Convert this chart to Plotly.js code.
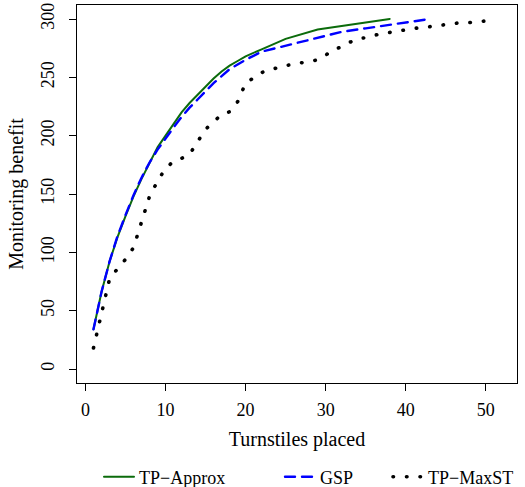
<!DOCTYPE html>
<html>
<head>
<meta charset="utf-8">
<script src="https://cdn.plot.ly/plotly-3.0.1.min.js"></script>
<style>
  html, body { margin: 0; padding: 0; background: #fff; }
  #chart { width: 525px; height: 487px; }
  .js-line { stroke-linecap: round; }
</style>
</head>
<body>
<div id="chart"></div>
<script>
// ---- data ----
var seriesNames = ["TP\u2212Approx", "GSP", "TP\u2212MaxST"];

var tpApproxX = [1,2,3,4,5,6,7,8,9,10,11,12,13,14,15,16,17,18,19,20,22,25,29,38];
var tpApproxY = [34,66,92,113,131,148,163,177,190,200,210,220,228,235,242,249,255,260,264,268,274,283,291,300];

var gspX = [1,2,3,4,5,6,7,8,9,10,11,12,13,14,15,16,17,18,19,20,22,25,29,32,35,38,40,43];
var gspY = [34,66,92,114,132,149,164,177,188,198,207,216,224,231,238,245,251,257,261,265,272,277,284,289,292,295,297,300];

var maxstX = [1,2,3,4,5,6,7,8,9,10,11,12,13,14,15,16,17,18,19,20,21,22,23,24,25,26,27,28,29,30,31,32,33,34,35,36,37,38,39,40,41,42,43,44,45,46,47,48,49,50,51];
var maxstY = [18,47,77,86,94,104,126,148,161,172,178,180.5,184,195,205.5,212,218,220.5,229,245,249.5,254,257,258,260,261.5,262.5,263.5,265,269,274,276,280,283,284,286,287.5,288.5,289.5,291,292,292.5,293.5,294.5,295.5,296.5,297,297,297.5,298,299];

var xTicks = [0,10,20,30,40,50];
var yTicks = [0,50,100,150,200,250,300];
var xTitle = "Turnstiles placed";
var yTitle = "Monitoring benefit";

var serif = '"Liberation Serif", "Times New Roman", Times, serif';

var traces = [
  { x: tpApproxX, y: tpApproxY, name: seriesNames[0], type: 'scatter', mode: 'lines',
    line: { color: '#0b6b0b', width: 2 }, legend: 'legend' },
  { x: gspX, y: gspY, name: seriesNames[1], type: 'scatter', mode: 'lines',
    line: { color: '#0000ff', width: 2.4, dash: '10px,7px' }, legend: 'legend2' },
  { x: maxstX, y: maxstY, name: seriesNames[2], type: 'scatter', mode: 'lines',
    line: { color: '#000000', width: 3.6, dash: '0.5px,13px' }, legend: 'legend3' }
];

function axisBase() {
  return {
    showgrid: false, zeroline: false, automargin: false,
    showline: true, mirror: true, linecolor: '#000', linewidth: 1,
    ticks: 'outside', ticklen: 7, tickwidth: 1, tickcolor: '#000',
    tickfont: { family: serif, size: 18, color: '#000' }
  };
}

var xaxis = axisBase();
xaxis.range = [-1.06, 53.9];
xaxis.tickvals = xTicks;
xaxis.ticklabelstandoff = 3;
xaxis.title = { text: xTitle, font: { family: serif, size: 20, color: '#000' }, standoff: 13 };

var yaxis = axisBase();
yaxis.range = [-12, 312];
yaxis.tickvals = yTicks;
yaxis.tickangle = -90;
yaxis.ticklabelstandoff = 8;
yaxis.title = { text: yTitle, font: { family: serif, size: 20, color: '#000' }, standoff: 8 };

function legendAt(xpx) {
  return {
    x: (xpx - 77) / 440, y: (487 - 477) / 487,
    xref: 'paper', yref: 'container', xanchor: 'left', yanchor: 'middle',
    orientation: 'h', bgcolor: 'rgba(0,0,0,0)', borderwidth: 0,
    font: { family: serif, size: 18, color: '#000' }
  };
}

var layout = {
  width: 525, height: 487,
  margin: { l: 77, r: 8, t: 5, b: 104, autoexpand: false },
  paper_bgcolor: '#fff', plot_bgcolor: '#fff',
  font: { family: serif, size: 18, color: '#000' },
  xaxis: xaxis, yaxis: yaxis,
  showlegend: true,
  legend: legendAt(99),
  legend2: legendAt(280),
  legend3: legendAt(388)
};

Plotly.newPlot('chart', traces, layout, { displayModeBar: false, staticPlot: true });
</script>
</body>
</html>
